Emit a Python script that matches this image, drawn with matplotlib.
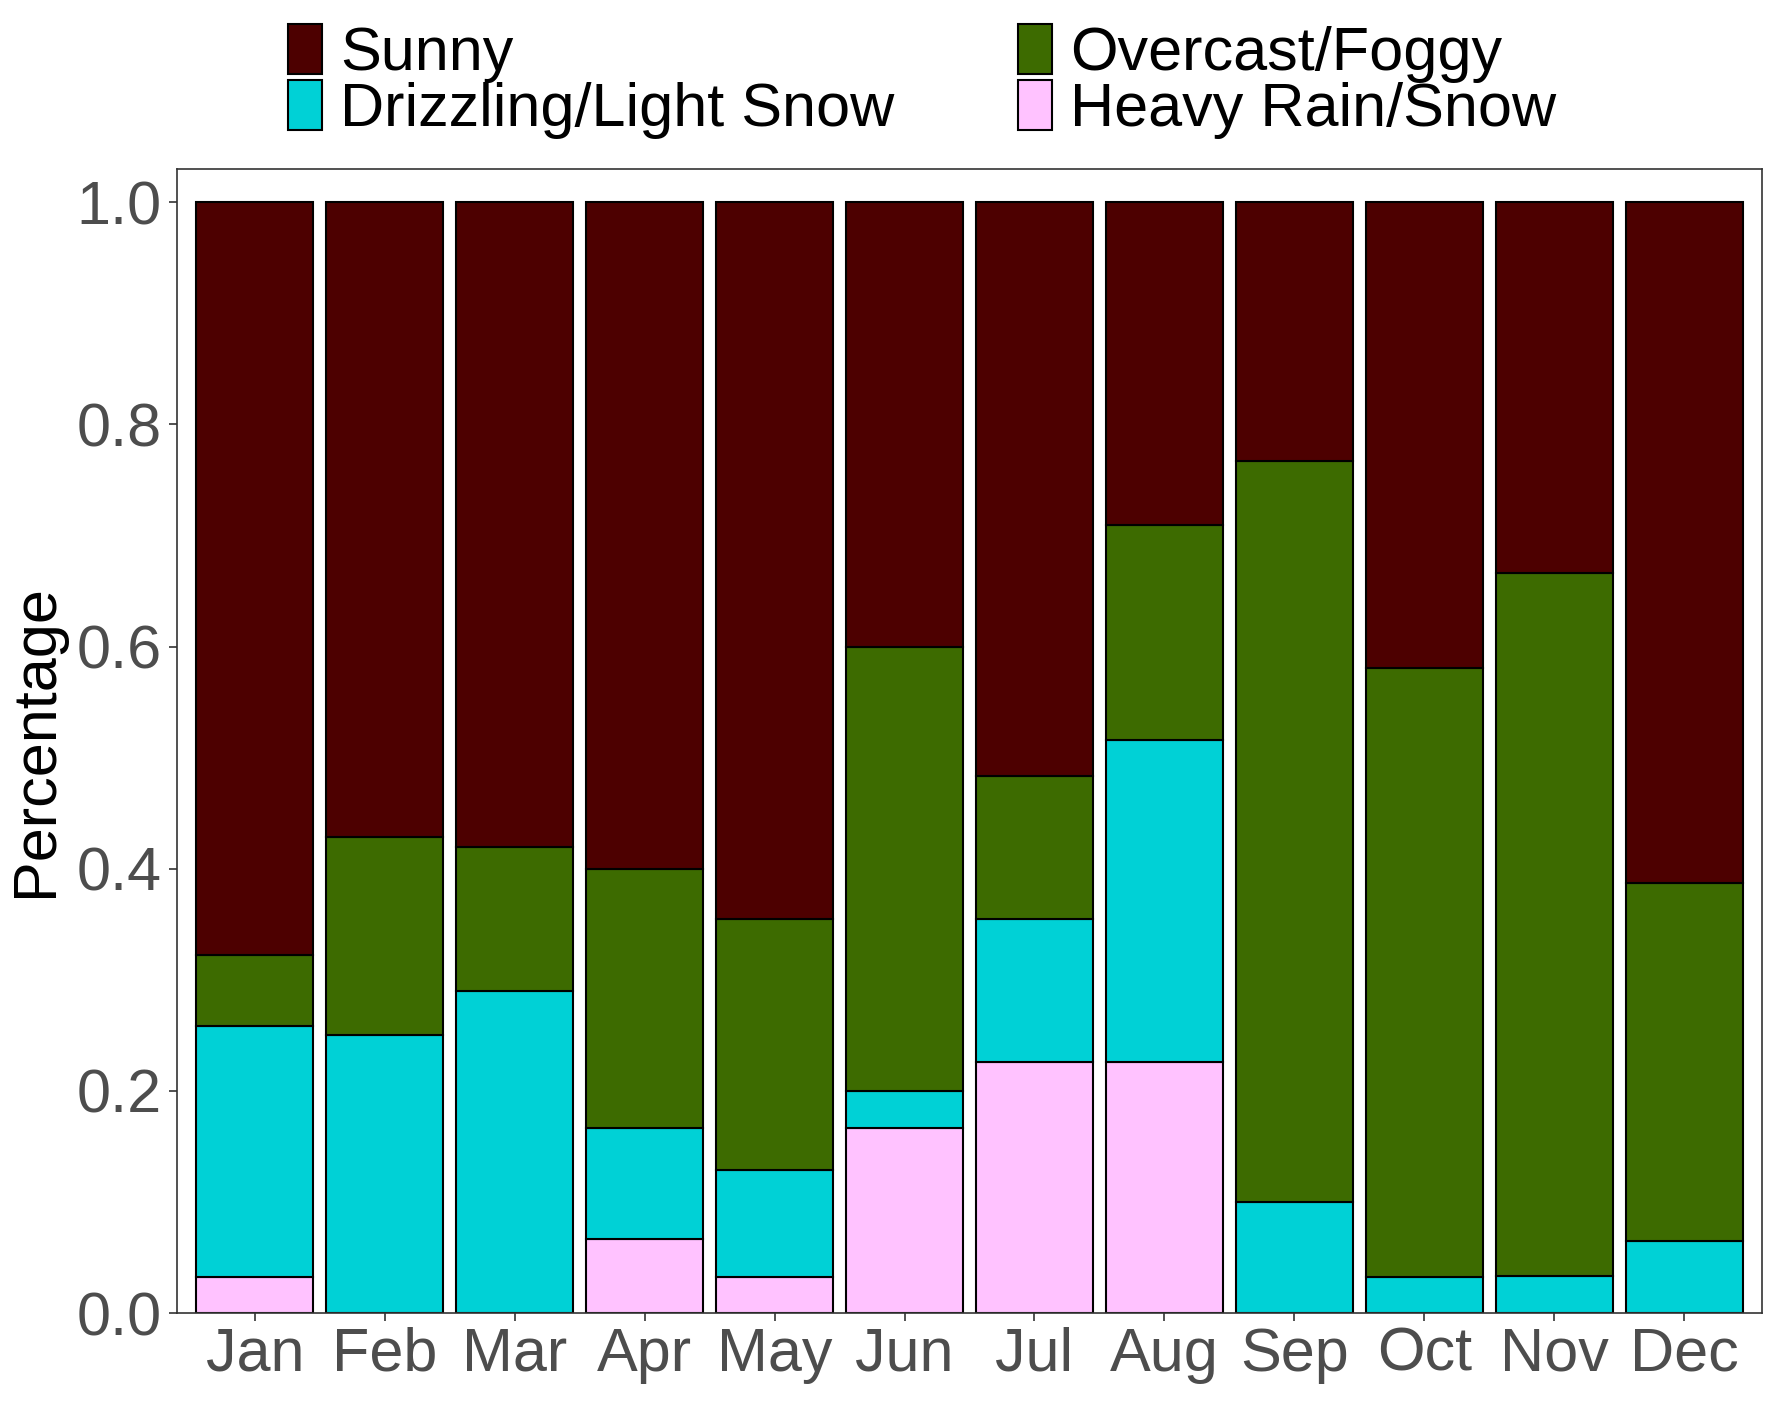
import matplotlib
matplotlib.use("Agg")
import matplotlib.pyplot as plt
import numpy as np

months = ["Jan", "Feb", "Mar", "Apr", "May", "Jun", "Jul", "Aug", "Sep", "Oct", "Nov", "Dec"]
# days per weather type in each month
heavy = [1, 0, 0, 2, 1, 5, 7, 7, 0, 0, 0, 0]
drizzle = [7, 7, 9, 3, 3, 1, 4, 9, 3, 1, 1, 2]
overcast = [2, 5, 4, 7, 7, 12, 4, 6, 20, 17, 19, 10]
sunny = [21, 16, 18, 18, 20, 12, 16, 9, 7, 13, 10, 19]

labels = ["Sunny", "Overcast/Foggy", "Drizzling/Light Snow", "Heavy Rain/Snow"]
colors = {"Sunny": "#4D0000", "Overcast/Foggy": "#3D6B00",
          "Drizzling/Light Snow": "#00D1D6", "Heavy Rain/Snow": "#FFC2FF"}

plt.rcParams['font.family'] = ['Liberation Sans', 'DejaVu Sans']

h = np.array(heavy, float)
d = np.array(drizzle, float)
o = np.array(overcast, float)
s = np.array(sunny, float)
tot = h + d + o + s
stack = [("Heavy Rain/Snow", h / tot), ("Drizzling/Light Snow", d / tot),
         ("Overcast/Foggy", o / tot), ("Sunny", s / tot)]

fig = plt.figure(figsize=(17.75, 14.14), dpi=100)
ax = fig.add_axes([0.0997, 0.0714, 0.893, 0.8091])

x = np.arange(1, 13)
bottom = np.zeros(12)
handles = {}
for name, vals in stack:
    bars = ax.bar(x, vals, bottom=bottom, width=0.9, color=colors[name],
                  edgecolor="black", linewidth=1.5, label=name)
    handles[name] = bars
    bottom += vals

ax.set_xlim(0.4, 12.6)
ax.set_ylim(0, 1.03)
ax.set_xticks(x)
ax.set_xticklabels(months)
ax.set_yticks([0.0, 0.2, 0.4, 0.6, 0.8, 1.0])
ax.set_yticklabels(["0.0", "0.2", "0.4", "0.6", "0.8", "1.0"])
ax.tick_params(axis="both", labelsize=44, labelcolor="#4D4D4D", color="#333333",
               length=6, width=1.2, pad=5)
ax.tick_params(axis="x", pad=4)
for sp in ax.spines.values():
    sp.set_linewidth(1.2)
    sp.set_color("#333333")
ax.set_ylabel("Percentage", fontsize=44, color="black", labelpad=8)

order = ["Sunny", "Drizzling/Light Snow", "Overcast/Foggy", "Heavy Rain/Snow"]
leg = fig.legend([handles[n] for n in order], order, ncol=2, loc="upper left",
                 bbox_to_anchor=(0.162, 0.983), frameon=False, fontsize=44,
                 handlelength=0.56, handleheight=0.88, handletextpad=0.3,
                 columnspacing=2.02, labelspacing=-0.05, borderpad=0.0,
                 borderaxespad=0.0)

fig.savefig("out.png", dpi=100)
